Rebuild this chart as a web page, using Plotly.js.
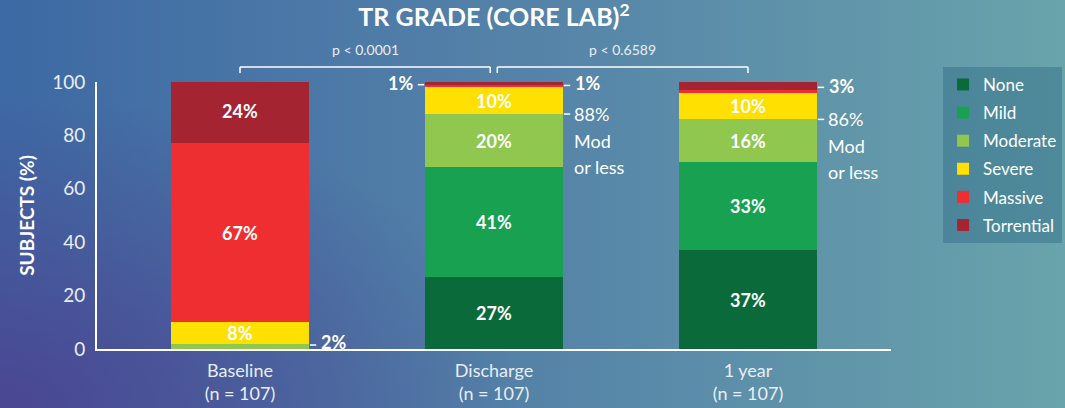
<!DOCTYPE html>
<html>
<head>
<meta charset="utf-8">
<script src="https://cdn.plot.ly/plotly-3.0.1.min.js"></script>
<style>
  html, body { margin:0; padding:0; }
  body {
    width:1065px; height:408px; overflow:hidden;
    background:
      radial-gradient(ellipse 70% 110% at 0% 100%, rgba(76,68,145,0.95) 0%, rgba(76,68,145,0) 70%),
      linear-gradient(to right, #3d69a4 0%, #5583a8 50%, #69a3ab 100%);
  }
  #chart { width:1065px; height:408px; }
</style>
</head>
<body>
<div id="chart"></div>
<script>
const categories = ['Baseline<br>(n = 107)', 'Discharge<br>(n = 107)', '1 year<br>(n = 107)'];
const none       = [0, 27, 37];
const mild       = [0, 41, 33];
const moderate   = [2, 20, 16];
const severe     = [8, 10, 10];
const massive    = [67, 1, 1];
const torrential = [24, 1, 3];
const seriesNames = ['None', 'Mild', 'Moderate', 'Severe', 'Massive', 'Torrential'];
const seriesColors = ['#0b6a3a', '#17a150', '#8fc74f', '#ffe000', '#ee2e31', '#a52431'];
const pLabels = ['p < 0.0001', 'p < 0.6589'];
const modOrLess = ['88%', '86%'];

const series = [none, mild, moderate, severe, massive, torrential];
const FONT = 'Lato, "Open Sans", sans-serif';
const HALF = 0.27;

const traces = series.map((vals, i) => ({
  type: 'bar',
  name: seriesNames[i],
  x: categories,
  y: vals,
  legendgroup: 'g' + i,
  marker: { color: seriesColors[i], line: { width: 0 } },
  text: vals.map(v => v >= 5 ? v + '%' : ''),
  textposition: 'inside',
  insidetextanchor: 'middle',
  constraintext: 'none',
  textfont: { family: FONT, size: 18, color: '#ffffff', weight: 'bold' },
  hoverinfo: 'skip'
}));

const cum = (k, upto) => series.slice(0, upto).reduce((s, a) => s + a[k], 0);

const shapes = [];
const annotations = [];
const white = '#ffffff';
function dash(x0, x1, y) {
  shapes.push({ type: 'line', xref: 'x', yref: 'y', x0: x0, x1: x1, y0: y, y1: y,
    line: { color: white, width: 1.5 } });
}
function label(x, y, text, anchor, bold, yshift) {
  annotations.push({ xref: 'x', yref: 'y', x: x, y: y, text: text, showarrow: false,
    xanchor: anchor, yanchor: 'middle', yshift: yshift || 0,
    font: { family: FONT, size: 18, color: white, weight: bold ? 'bold' : 'normal' } });
}

// Baseline 2%
dash(0 + HALF + 0.005, 0 + HALF + 0.03, cum(0, 3) - 0.5);
label(0 + HALF + 0.04, cum(0, 3) + 0.5, moderate[0] + '%', 'left', true);

// Discharge top labels
dash(1 - HALF - 0.03, 1 - HALF - 0.005, 100 - torrential[1] / 2 - 0.5);
label(1 - HALF - 0.04, 100 - torrential[1] / 2, torrential[1] + '%', 'right', true);
dash(1 + HALF + 0.005, 1 + HALF + 0.03, 100 - torrential[1] / 2 - 0.8);
label(1 + HALF + 0.04, 100 - torrential[1] / 2, massive[1] + '%', 'left', true);

// 1 year top label
dash(2 + HALF + 0.005, 2 + HALF + 0.03, 100 - torrential[2] / 2 - 0.5);
label(2 + HALF + 0.04, 100 - torrential[2] / 2, torrential[2] + '%', 'left', true);

// Mod or less
[1, 2].forEach((k, j) => {
  const yv = cum(k, 3);
  dash(k + HALF + 0.005, k + HALF + 0.03, yv);
  label(k + HALF + 0.037, yv, modOrLess[j], 'left', false);
  label(k + HALF + 0.037, yv, 'Mod', 'left', false, -27);
  label(k + HALF + 0.037, yv, 'or less', 'left', false, -53);
});

// p-value brackets
const by = 1.056, bt = 1.034;
[[0, 0.985], [1.013, 2]].forEach((b, j) => {
  shapes.push({ type: 'line', xref: 'x', yref: 'paper', x0: b[0], x1: b[1], y0: by, y1: by, line: { color: white, width: 1.5 } });
  shapes.push({ type: 'line', xref: 'x', yref: 'paper', x0: b[0], x1: b[0], y0: by, y1: bt, line: { color: white, width: 1.5 } });
  shapes.push({ type: 'line', xref: 'x', yref: 'paper', x0: b[1], x1: b[1], y0: by, y1: bt, line: { color: white, width: 1.5 } });
  annotations.push({ xref: 'x', yref: 'paper', x: (b[0] + b[1]) / 2, y: 1.12, text: pLabels[j],
    showarrow: false, xanchor: 'center', yanchor: 'middle',
    font: { family: FONT, size: 14, color: '#e8eef4' } });
});

const layout = {
  width: 1065, height: 408,
  paper_bgcolor: 'rgba(0,0,0,0)', plot_bgcolor: 'rgba(0,0,0,0)',
  margin: { l: 97, r: 174, t: 82, b: 59 },
  barmode: 'stack', bargap: 0.46,
  font: { family: FONT, color: '#e8eef4' },
  title: { text: 'TR GRADE (CORE LAB)<sup>2</sup>', x: 0.5, xref: 'paper', xanchor: 'center',
    y: 0.978, yref: 'container', yanchor: 'top',
    font: { family: FONT, size: 25, color: white, weight: 'bold' } },
  xaxis: {
    range: [-0.563, 2.563], showline: true, linecolor: white, linewidth: 2, automargin: false,
    showgrid: false, zeroline: false, ticks: 'outside', ticklen: 4, tickcolor: 'rgba(0,0,0,0)',
    tickfont: { family: FONT, size: 18, color: '#e8eef4' }, fixedrange: true
  },
  yaxis: {
    range: [0, 100], tickvals: [0, 20, 40, 60, 80, 100], showline: true, linecolor: white, linewidth: 2,
    showgrid: false, zeroline: false, ticks: 'outside', ticklen: 6, tickcolor: 'rgba(0,0,0,0)', automargin: false,
    tickfont: { family: FONT, size: 19, color: '#e8eef4' },
    title: { text: 'SUBJECTS (%)', standoff: 12, font: { family: FONT, size: 19, color: white, weight: 'bold' } },
    fixedrange: true
  },
  legend: {
    xref: 'container', yref: 'container',
    x: 0.8855, xanchor: 'left', y: 0.836, yanchor: 'top',
    traceorder: 'grouped', tracegroupgap: 3,
    bgcolor: 'rgba(40,100,130,0.4)', borderwidth: 0,
    font: { family: FONT, size: 17, color: white }
  },
  shapes: shapes,
  annotations: annotations,
  showlegend: true
};

Plotly.newPlot('chart', traces, layout, { displayModeBar: false, staticPlot: true });
</script>
</body>
</html>
